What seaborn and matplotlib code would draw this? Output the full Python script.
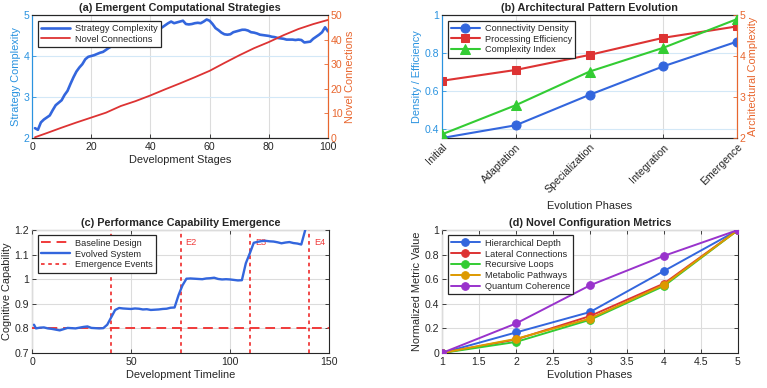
import matplotlib
matplotlib.use('Agg')
import matplotlib.pyplot as plt
from matplotlib.lines import Line2D
from matplotlib.ticker import FuncFormatter
import numpy as np
import pandas as pd
import seaborn as sns

# (a) strategies over development stages
stages = list(range(1, 101))
strategy_complexity = [
    2.24, 2.20, 2.38, 2.45, 2.50, 2.55, 2.68, 2.80, 2.86, 2.92,
    3.05, 3.15, 3.32, 3.48, 3.62, 3.72, 3.80, 3.92, 3.98, 4.00,
    4.02, 4.05, 4.08, 4.10, 4.15, 4.20, 4.24, 4.27, 4.30, 4.33,
    4.36, 4.40, 4.42, 4.45, 4.47, 4.48, 4.50, 4.50, 4.52, 4.55,
    4.58, 4.62, 4.66, 4.70, 4.75, 4.80, 4.84, 4.80, 4.82, 4.84,
    4.86, 4.78, 4.77, 4.78, 4.80, 4.81, 4.80, 4.84, 4.89, 4.86,
    4.78, 4.68, 4.63, 4.57, 4.53, 4.52, 4.53, 4.58, 4.60, 4.62,
    4.64, 4.64, 4.62, 4.58, 4.57, 4.55, 4.52, 4.51, 4.50, 4.49,
    4.47, 4.46, 4.44, 4.43, 4.42, 4.40, 4.40, 4.40, 4.39, 4.40,
    4.39, 4.33, 4.34, 4.35, 4.42, 4.47, 4.52, 4.58, 4.70, 4.60]
conn_stages = [1, 5, 10, 15, 20, 25, 30, 35, 40, 45, 50,
               55, 60, 65, 70, 75, 80, 85, 90, 95, 100]
novel_connections = [0.3, 2.0, 4.2, 6.3, 8.3, 10.3, 13.0, 15.0, 17.3, 19.8, 22.2,
                     24.7, 27.3, 30.5, 33.6, 36.5, 39.0, 41.8, 44.3, 46.3, 48.0]

# (b) architectural patterns
phases = ['Initial', 'Adaptation', 'Specialization', 'Integration', 'Emergence']
connectivity_density = [0.353, 0.42, 0.58, 0.73, 0.86]
processing_efficiency = [0.654, 0.711, 0.79, 0.88, 0.94]
complexity_index = [2.09, 2.80, 3.62, 4.20, 4.90]

# (c) performance capability
timeline = [1, 2, 4, 6, 8, 10, 12, 14, 16, 18, 20, 22, 24, 26, 28, 30, 32, 34, 36,
            38, 40, 42, 44, 46, 48, 50, 52, 54, 56, 58, 60, 62, 64, 66, 68, 70, 72,
            74, 76, 78, 80, 82, 84, 86, 88, 90, 92, 94, 96, 98, 100, 102, 104, 106,
            108, 110, 112, 114, 116, 118, 120, 122, 124, 126, 128, 130, 132, 134, 136,
            138, 140, 142, 144, 146, 148, 150]
evolved_system = [0.815, 0.800, 0.803, 0.804, 0.800, 0.798, 0.795, 0.792, 0.797, 0.802,
                  0.801, 0.800, 0.803, 0.806, 0.808, 0.802, 0.801, 0.800, 0.801,
                  0.815, 0.845, 0.875, 0.883, 0.881, 0.880, 0.879, 0.881, 0.880, 0.877,
                  0.878, 0.875, 0.876, 0.877, 0.879, 0.880, 0.884, 0.885,
                  0.935, 0.975, 1.002, 1.003, 1.002, 1.001, 1.000, 1.003, 1.004, 1.006,
                  1.001, 0.999, 1.000, 0.999, 0.997, 0.995, 0.996,
                  1.065, 1.105, 1.148, 1.152, 1.155, 1.156, 1.154, 1.153, 1.150, 1.146,
                  1.149, 1.151, 1.147, 1.145, 1.141,
                  1.200, 1.245, 1.280, 1.300, 1.290, 1.300, 1.310]
baseline_design = 0.8
event_times = [40, 75, 110, 140]
event_names = ['E1', 'E2', 'E3', 'E4']

# (d) novel configuration metrics
config_phases = [1, 2, 3, 4, 5]
hierarchical_depth = [0, 0.167, 0.333, 0.667, 1]
lateral_connections = [0, 0.11, 0.30, 0.565, 1]
recursive_loops = [0, 0.09, 0.27, 0.545, 1]
metabolic_pathways = [0, 0.115, 0.28, 0.555, 1]
quantum_coherence = [0, 0.24, 0.55, 0.79, 1]

BLUE = '#3366dd'
RED = '#dd3333'
GREEN = '#33cc33'
ORANGE = '#dd9900'
PURPLE = '#9933cc'
LEFT_C = '#2a93e0'
RIGHT_C = '#e8662e'
EDGE = '#262626'

sns.set_theme(style='white')
plt.rcParams['font.family'] = ['Liberation Sans', 'DejaVu Sans']
plt.rcParams.update({
    'axes.edgecolor': EDGE, 'axes.linewidth': 0.8,
    'xtick.direction': 'in', 'ytick.direction': 'in',
    'xtick.bottom': True, 'ytick.left': True,
    'xtick.major.size': 3, 'ytick.major.size': 3,
    'xtick.major.width': 0.6, 'ytick.major.width': 0.6,
    'xtick.major.pad': 3, 'ytick.major.pad': 2,
    'xtick.labelsize': 7.6, 'ytick.labelsize': 7.6,
    'axes.labelsize': 7.9, 'axes.titlesize': 7.8,
    'xtick.color': EDGE, 'ytick.color': EDGE,
    'text.color': EDGE, 'axes.labelcolor': EDGE,
    'legend.fontsize': 6.6,
})
fmt = FuncFormatter(lambda v, p: '%g' % round(v, 3))


def style_legend(ax, handles, labels):
    leg = ax.legend(handles, labels, loc='upper left', frameon=True, fancybox=False,
                    framealpha=1, edgecolor=EDGE, handlelength=3.2, borderpad=0.35,
                    labelspacing=0.2, handletextpad=0.5, borderaxespad=0.6)
    leg.get_frame().set_linewidth(0.9)
    leg.set_zorder(10)
    return leg


def grid_twin(ax):
    ax.grid(True, axis='x', color='#dcdcdc', linewidth=0.8)
    ax.grid(True, axis='y', color='#d3e8f7', linewidth=0.8)
    ax.set_axisbelow(True)


fig = plt.figure(figsize=(7.67, 3.88), dpi=100)
W, H = 767, 388


def box(l, t, r, b):
    return [l / W, 1 - b / H, (r - l) / W, (b - t) / H]


# ---------------- (a)
ax = fig.add_axes(box(32, 15, 328, 138))
ax2 = ax.twinx()
sns.lineplot(x=stages, y=strategy_complexity, ax=ax, color=BLUE, linewidth=1.9,
             label='Strategy Complexity', legend=False)
sns.lineplot(x=conn_stages, y=novel_connections, ax=ax2, color=RED, linewidth=1.3,
             label='Novel Connections', legend=False)
ax.set_xlim(0, 100)
ax.set_ylim(2, 5)
ax2.set_ylim(0, 50)
ax.set_xticks([0, 20, 40, 60, 80, 100])
ax.set_yticks([2, 3, 4, 5])
ax2.set_yticks([0, 10, 20, 30, 40, 50])
grid_twin(ax)
ax.set_xlabel('Development Stages', labelpad=2)
ax.set_ylabel('Strategy Complexity', color=LEFT_C, labelpad=2)
ax2.set_ylabel('Novel Connections', color=RIGHT_C, labelpad=2)
ax.tick_params(axis='y', colors=LEFT_C)
ax2.tick_params(axis='y', colors=RIGHT_C, direction='in')
ax.set_title('(a) Emergent Computational Strategies', fontweight='bold', pad=3)
h1, l1 = ax.get_legend_handles_labels()
h2, l2 = ax2.get_legend_handles_labels()
style_legend(ax2, h1 + h2, l1 + l2)
for a in (ax, ax2):
    a.spines['left'].set_color(LEFT_C)
    a.spines['right'].set_color(RIGHT_C)

# ---------------- (b)
bx = fig.add_axes(box(442, 15, 737, 138))
bx2 = bx.twinx()
pos = list(range(1, len(phases) + 1))
sns.lineplot(x=pos, y=connectivity_density, ax=bx, color=BLUE, linewidth=1.5,
             marker='o', markersize=6.5, markeredgecolor=BLUE,
             label='Connectivity Density', legend=False)
sns.lineplot(x=pos, y=processing_efficiency, ax=bx, color=RED, linewidth=1.5,
             marker='s', markersize=6, markeredgecolor=RED,
             label='Processing Efficiency', legend=False)
sns.lineplot(x=pos, y=complexity_index, ax=bx2, color=GREEN, linewidth=1.5,
             marker='^', markersize=7, markeredgecolor=GREEN,
             label='Complexity Index', legend=False)
bx.set_xlim(1, 5)
bx.set_ylim(0.353, 1)
bx2.set_ylim(2, 5)
bx.set_yticks([0.4, 0.6, 0.8, 1])
bx2.set_yticks([2, 3, 4, 5])
bx.yaxis.set_major_formatter(fmt)
bx.set_xticks(pos)
bx.set_xticklabels(phases, rotation=45, ha='right', rotation_mode='anchor')
grid_twin(bx)
bx.set_xlabel('Evolution Phases', labelpad=4)
bx.set_ylabel('Density / Efficiency', color=LEFT_C, labelpad=2)
bx2.set_ylabel('Architectural Complexity', color=RIGHT_C, labelpad=2)
bx.tick_params(axis='y', colors=LEFT_C)
bx2.tick_params(axis='y', colors=RIGHT_C, direction='in')
bx.set_title('(b) Architectural Pattern Evolution', fontweight='bold', pad=3)
h1, l1 = bx.get_legend_handles_labels()
h2, l2 = bx2.get_legend_handles_labels()
style_legend(bx2, h1 + h2, l1 + l2)
for a in (bx, bx2):
    a.spines['left'].set_color(LEFT_C)
    a.spines['right'].set_color(RIGHT_C)
    for s in ('left', 'right', 'top', 'bottom'):
        a.spines[s].set_zorder(0.5)

# ---------------- (c)
cx = fig.add_axes(box(32, 230, 329, 353))
EV_RED = '#f03a3a'
cx.axhline(baseline_design, color=EV_RED, linestyle=(0, (5, 3)), linewidth=1.4,
           zorder=3)
for t in event_times:
    cx.axvline(t, color=EV_RED, linestyle=(0, (2, 2)), linewidth=1.3, zorder=3)
for t, name in zip(event_times, event_names):
    cx.text(t + 2.5, 1.15, name, color=EV_RED, fontsize=6.6, va='center', ha='left')
sns.lineplot(x=timeline, y=evolved_system, ax=cx, color=BLUE, linewidth=1.7,
             legend=False, zorder=4)
cx.set_xlim(0, 150)
cx.set_ylim(0.7, 1.2)
cx.set_xticks([0, 50, 100, 150])
cx.set_yticks([0.7, 0.8, 0.9, 1.0, 1.1, 1.2])
cx.yaxis.set_major_formatter(fmt)
cx.grid(True, color='#dcdcdc', linewidth=0.8)
cx.set_axisbelow(True)
cx.tick_params(top=True, right=True)
cx.set_xlabel('Development Timeline', labelpad=2)
cx.set_ylabel('Cognitive Capability', labelpad=2)
cx.set_title('(c) Performance Capability Emergence', fontweight='bold', pad=3)
handles = [Line2D([], [], color=EV_RED, linestyle=(0, (5, 3)), linewidth=1.4),
           Line2D([], [], color=BLUE, linewidth=1.7),
           Line2D([], [], color=EV_RED, linestyle=(0, (2, 2)), linewidth=1.3)]
style_legend(cx, handles, ['Baseline Design', 'Evolved System', 'Emergence Events'])

# ---------------- (d)
dx = fig.add_axes(box(442, 230, 738, 353))
series_d = [('Hierarchical Depth', hierarchical_depth, BLUE),
            ('Lateral Connections', lateral_connections, RED),
            ('Recursive Loops', recursive_loops, GREEN),
            ('Metabolic Pathways', metabolic_pathways, ORANGE),
            ('Quantum Coherence', quantum_coherence, PURPLE)]
for name, vals, col in series_d:
    sns.lineplot(x=config_phases, y=vals, ax=dx, color=col, linewidth=1.4,
                 marker='o', markersize=5.5, markeredgecolor=col,
                 label=name, legend=False)
dx.set_xlim(1, 5)
dx.set_ylim(0, 1)
dx.set_xticks(np.arange(1, 5.01, 0.5))
dx.set_yticks([0, 0.2, 0.4, 0.6, 0.8, 1])
dx.xaxis.set_major_formatter(fmt)
dx.yaxis.set_major_formatter(fmt)
dx.grid(True, color='#dcdcdc', linewidth=0.8)
dx.set_axisbelow(True)
dx.tick_params(top=True, right=True)
dx.set_xlabel('Evolution Phases', labelpad=2)
dx.set_ylabel('Normalized Metric Value', labelpad=2)
dx.set_title('(d) Novel Configuration Metrics', fontweight='bold', pad=3)
h, l = dx.get_legend_handles_labels()
style_legend(dx, h, l)
for a in (cx, dx):
    for s in ('left', 'right', 'top', 'bottom'):
        a.spines[s].set_zorder(0.5)

fig.savefig('out.png', dpi=100)
